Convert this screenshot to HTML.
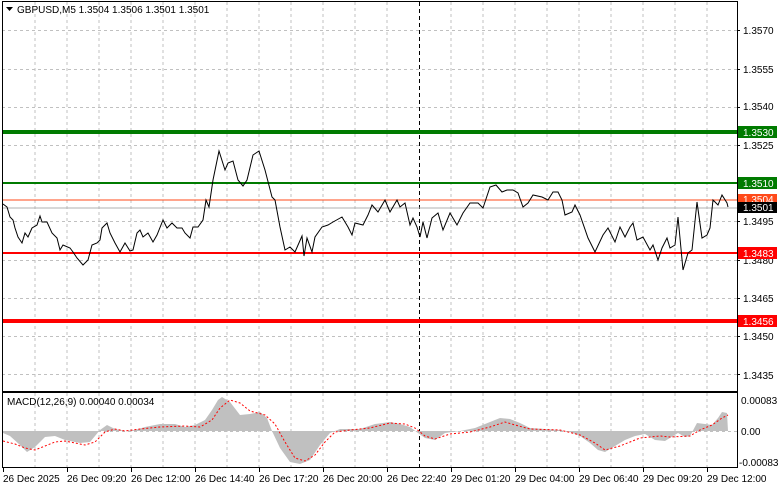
<!DOCTYPE html>
<html><head><meta charset="utf-8"><style>
body{margin:0;background:#fff;}
svg text{font-family:"Liberation Sans","DejaVu Sans",sans-serif;font-size:10px;}
</style></head><body>
<svg width="781" height="489" viewBox="0 0 781 489" xmlns="http://www.w3.org/2000/svg">
<rect width="781" height="489" fill="#fff"/>
<g stroke="#c0c0c0" stroke-dasharray="3,3" stroke-width="1">
<path d="M35,2V391M67,2V391M99,2V391M131,2V391M163,2V391M195,2V391M227,2V391M259,2V391M291,2V391M323,2V391M355,2V391M387,2V391M451,2V391M483,2V391M515,2V391M547,2V391M579,2V391M611,2V391M643,2V391M675,2V391M707,2V391"/>
<path d="M35,393V467M67,393V467M99,393V467M131,393V467M163,393V467M195,393V467M227,393V467M259,393V467M291,393V467M323,393V467M355,393V467M387,393V467M451,393V467M483,393V467M515,393V467M547,393V467M579,393V467M611,393V467M643,393V467M675,393V467M707,393V467"/>
<path d="M2,30.5H737M2,69.5H737M2,107.5H737M2,145.5H737M2,221.5H737M2,260.5H737M2,298.5H737M2,336.5H737M2,374.5H737M2,431.5H737"/>
</g>
<path d="M419.5,2V467" stroke="#000" stroke-dasharray="4,3"/>
<!-- level lines -->
<rect x="2" y="130" width="735" height="4" fill="#007b00"/>
<rect x="2" y="182" width="735" height="2" fill="#007b00"/>
<rect x="2" y="199.5" width="735" height="1" fill="#ff4a1a"/>
<rect x="2" y="207.5" width="735" height="1" fill="#b0b0b0"/>
<rect x="2" y="252" width="735" height="2" fill="#ff0000"/>
<rect x="2" y="319" width="735" height="4" fill="#ff0000"/>
<polyline fill="none" stroke="#000" stroke-width="1" points="3,204 7,207 10,217 13,220 15,228 18,237 22,243 25,233 28,237 32,228 37,225 40,216 42,222 47,222 52,233 57,238 60,250 63,245 70,248 73,252 77,258 83,265 88,260 92,245 97,243 100,240 102,228 107,223 110,233 115,243 120,252 125,243 130,251 133,250 137,233 140,230 143,237 148,233 153,242 157,235 163,220 167,228 172,223 177,228 182,228 185,233 190,238 193,227 198,227 203,220 206,200 209,207 213,180 219,151 225,170 228,163 233,161 238,180 243,186 247,180 253,155 259,151 265,170 272,197 275,200 280,227 285,250 290,247 295,252 302,236 304,256 307,238 312,252 315,237 322,227 328,225 333,222 342,217 348,227 352,235 355,223 363,225 368,215 372,205 378,212 385,200 390,212 397,200 400,207 405,203 410,225 413,218 417,227 420,237 423,222 427,238 432,218 438,213 443,230 450,213 457,225 463,213 470,203 478,203 483,208 490,187 496,185 502,192 507,190 513,190 518,193 523,207 528,203 533,195 542,197 548,200 553,192 558,192 562,200 565,215 572,212 575,205 580,215 588,238 595,252 603,235 608,228 615,242 620,227 625,237 630,227 633,223 637,240 643,237 650,250 653,245 658,260 662,248 667,238 670,248 675,245 678,217 683,270 688,253 692,250 697,202 702,238 707,235 710,228 713,200 718,205 722,195 727,203 728,207"/>
<!-- MACD -->
<polygon fill="#c0c0c0" points="3,431 3,433 10,436 20,445 27,452 35,447 45,437 55,436 65,440 80,443 90,442 100,430 107,425 115,429 125,431 135,430 145,427 160,424 175,424 185,427 195,425 205,420 212,410 218,400 222,397 230,402 240,415 250,414 260,412 267,418 272,431 280,448 290,462 300,464 310,460 320,445 330,433 340,429 360,429 375,424 390,422 400,424 410,427 418,433 425,438 435,440 445,433 460,431 475,428 490,422 500,418 510,419 520,423 530,428 545,429 560,430 570,432 580,436 590,443 598,450 605,452 615,446 625,440 635,436 645,434 655,440 665,441 678,433 685,437 690,436 697,423 705,424 712,425 718,418 722,412 727,413 728,431"/>
<polyline fill="none" stroke="#ff0000" stroke-width="1" stroke-dasharray="2,2" points="3,441 15,444 25,448 35,450 45,446 55,442 65,441 75,443 85,445 95,442 105,432 115,429 125,431 140,429 160,427 185,426 200,427 212,420 220,408 230,400 240,403 250,411 265,415 275,424 285,442 295,458 305,461 315,455 325,442 335,432 350,430 370,428 390,423 405,424 415,428 425,436 435,439 450,434 470,432 490,427 505,422 515,425 530,429 560,430 580,435 595,443 605,450 620,446 640,438 660,436 670,437 690,436 700,430 712,425 722,418 728,415"/>
<!-- frames -->
<rect x="2.5" y="1.5" width="735" height="390" fill="none" stroke="#000"/>
<rect x="2.5" y="392.5" width="735" height="75" fill="none" stroke="#000"/>
<path d="M6,7h7l-3.5,4z" fill="#000"/>
<text x="17" y="13">GBPUSD,M5  1.3504 1.3506 1.3501 1.3501</text>
<text x="7" y="405">MACD(12,26,9) 0.00040 0.00034</text>
<!-- right axis -->
<g fill="#000">
<text x="743" y="34">1.3570</text><text x="743" y="73">1.3555</text><text x="743" y="110">1.3540</text><text x="743" y="149">1.3525</text><text x="743" y="225">1.3495</text><text x="743" y="264">1.3480</text><text x="743" y="302">1.3465</text><text x="743" y="340">1.3450</text><text x="743" y="379">1.3435</text>
<text x="741" y="404">0.00083</text><text x="741" y="435">0.00</text><text x="739" y="466">-0.00083</text>
</g>
<g stroke="#000"><path d="M737,30.5h3M737,69.5h3M737,107.5h3M737,145.5h3M737,221.5h3M737,260.5h3M737,298.5h3M737,336.5h3M737,374.5h3"/></g>
<rect x="738" y="126" width="39" height="12" fill="#007b00"/><text x="743" y="136" fill="#fff">1.3530</text>
<rect x="738" y="177" width="39" height="12" fill="#007b00"/><text x="743" y="187" fill="#fff">1.3510</text>
<rect x="738" y="194" width="39" height="10" fill="#ff4a1a"/><text x="743" y="203" fill="#fff">1.3504</text>
<rect x="738" y="202" width="39" height="11" fill="#000"/><text x="743" y="211" fill="#fff">1.3501</text>
<rect x="738" y="247" width="39" height="12" fill="#ff0000"/><text x="743" y="257" fill="#fff">1.3483</text>
<rect x="738" y="315" width="39" height="12" fill="#ff0000"/><text x="743" y="325" fill="#fff">1.3456</text>
<!-- time axis -->
<g stroke="#000"><path d="M3.5,468v4M67.5,468v4M131.5,468v4M195.5,468v4M259.5,468v4M323.5,468v4M387.5,468v4M451.5,468v4M515.5,468v4M579.5,468v4M643.5,468v4M707.5,468v4"/></g>
<g fill="#000">
<text x="3" y="482">26 Dec 2025</text><text x="67" y="482">26 Dec 09:20</text><text x="131" y="482">26 Dec 12:00</text><text x="195" y="482">26 Dec 14:40</text><text x="259" y="482">26 Dec 17:20</text><text x="323" y="482">26 Dec 20:00</text><text x="387" y="482">26 Dec 22:40</text><text x="451" y="482">29 Dec 01:20</text><text x="515" y="482">29 Dec 04:00</text><text x="579" y="482">29 Dec 06:40</text><text x="643" y="482">29 Dec 09:20</text><text x="707" y="482">29 Dec 12:00</text>
</g>
</svg>
</body></html>
